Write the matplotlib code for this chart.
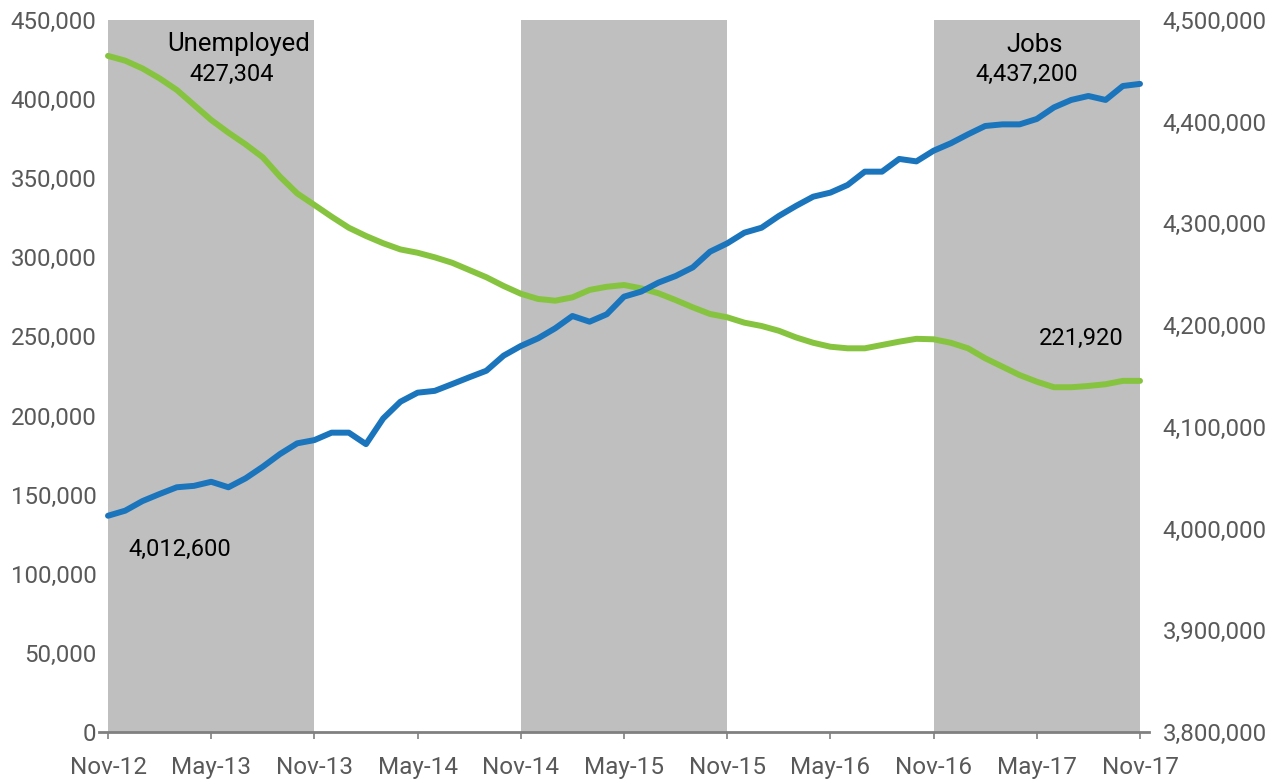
import numpy as np
import matplotlib
matplotlib.use('Agg')
import matplotlib.pyplot as plt
from matplotlib.ticker import FuncFormatter

# monthly data, Nov-12 .. Nov-17
months = ['Nov-12', 'May-13', 'Nov-13', 'May-14', 'Nov-14', 'May-15',
          'Nov-15', 'May-16', 'Nov-16', 'May-17', 'Nov-17']

unemployed = [427304, 424300, 419400, 413100, 405800, 396300, 386800, 378800,
              371400, 363200, 351000, 340400, 333100, 325700, 318700, 313500,
              308900, 305000, 302900, 300000, 296600, 292000, 287400, 281900,
              277000, 273700, 272600, 274700, 279400, 281400, 282500, 280400,
              277300, 273000, 268400, 264200, 262100, 258700, 256600, 253600,
              249400, 246000, 243500, 242500, 242500, 244600, 246700, 248500,
              248200, 246000, 242500, 236200, 230900, 225600, 221400, 217900,
              217900, 218700, 219800, 221920, 221920]

jobs = [4012600, 4017600, 4027000, 4034000, 4040600, 4042000, 4046000, 4040600,
        4049400, 4060800, 4073300, 4083800, 4087000, 4094300, 4094300, 4083000,
        4108300, 4124700, 4133600, 4135400, 4142000, 4148700, 4155200, 4170000,
        4179500, 4187000, 4196900, 4209000, 4203400, 4210700, 4228000, 4233000,
        4241800, 4248300, 4256800, 4272200, 4280400, 4290900, 4295800, 4307300,
        4317200, 4326300, 4330300, 4337800, 4350900, 4350900, 4363400, 4361000,
        4371500, 4378800, 4387600, 4395800, 4397400, 4397400, 4402700, 4414100,
        4421400, 4425300, 4421400, 4435100, 4437200]

# shaded periods (month index start, end)
bands = [(0, 12), (24, 36), (48, 60)]

x = np.arange(len(jobs))
gray_txt = '#595959'
plt.rcParams['font.family'] = ['Roboto', 'DejaVu Sans']

fig = plt.figure(figsize=(12.84, 7.82), dpi=100)
ax = fig.add_axes([99.4 / 1284, 50 / 782, (1148.6 - 99.4) / 1284, 712 / 782])
ax2 = ax.twinx()

for s, e in bands:
    ax.axvspan(s, e, color='#bfbfbf', lw=0, zorder=0)

ax.plot(x, unemployed, color='#86c440', lw=4.3, solid_capstyle='round', zorder=3)
ax2.plot(x, jobs, color='#1b75bc', lw=4.3, solid_capstyle='round', zorder=3)

ax.set_xlim(-0.5, 60.5)
ax.set_ylim(0, 450000)
ax2.set_ylim(3800000, 4500000)
ax.set_yticks(np.arange(0, 450001, 50000))
ax2.set_yticks(np.arange(3800000, 4500001, 100000))
fmt = FuncFormatter(lambda v, p: f'{int(v):,}')
ax.yaxis.set_major_formatter(fmt)
ax2.yaxis.set_major_formatter(fmt)
ax.set_xticks(np.arange(0, 61, 6))
ax.set_xticklabels(months)

for a in (ax, ax2):
    for sp in ('top', 'left', 'right', 'bottom'):
        a.spines[sp].set_visible(False)
ax.spines['bottom'].set_visible(True)
ax.spines['bottom'].set_color('#808080')
ax.spines['bottom'].set_linewidth(2)

ax.tick_params(axis='y', length=0, pad=2, labelsize=17.3, labelcolor=gray_txt)
ax2.tick_params(axis='y', length=0, pad=10, labelsize=17.3, labelcolor=gray_txt)
ax.tick_params(axis='x', length=5, width=1.2, color='#808080', pad=12,
               labelsize=17.5, labelcolor=gray_txt)

# annotations
ax.text(7.6, 435000, 'Unemployed', ha='center', va='center', fontsize=18.5, color='black')
ax.text(7.2, 415500, f'{unemployed[0]:,}', ha='center', va='center', fontsize=17, color='black')
ax2.text(4.2, 3979000, f'{jobs[0]:,}', ha='center', va='center', fontsize=17, color='black')
ax.text(53.9, 434000, 'Jobs', ha='center', va='center', fontsize=18.5, color='black')
ax2.text(53.4, 4446000, f'{jobs[-1]:,}', ha='center', va='center', fontsize=17, color='black')
ax.text(56.6, 249000, f'{unemployed[-1]:,}', ha='center', va='center', fontsize=17, color='black')

fig.savefig('out.png', dpi=100)
